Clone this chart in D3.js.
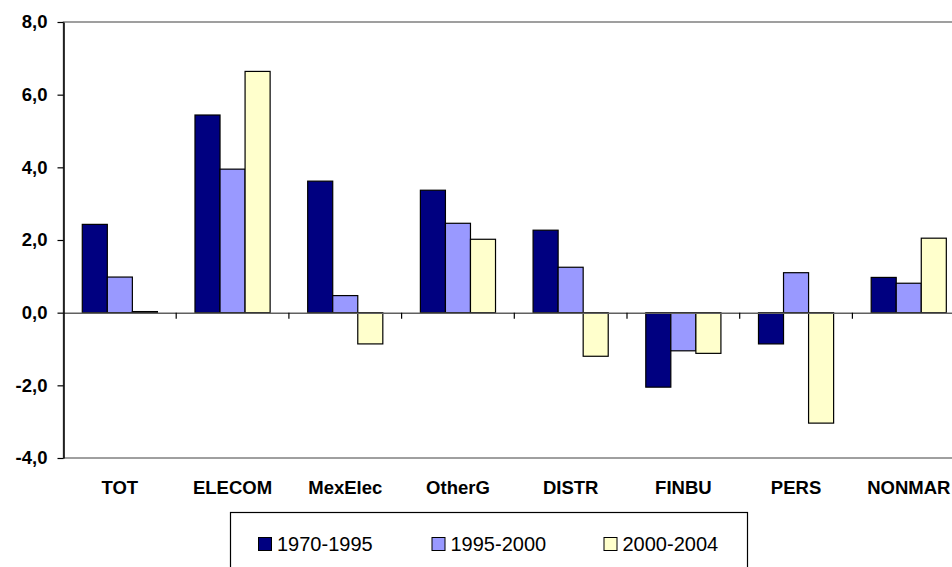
<!DOCTYPE html>
<html>
<head>
<meta charset="utf-8">
<script src="https://cdn.jsdelivr.net/npm/d3@7"></script>
<style>
  html, body { margin: 0; padding: 0; background: #fff; }
  svg { display: block; font-family: "Liberation Sans", Arial, sans-serif; }
</style>
</head>
<body>
<svg id="chart" width="952" height="567"></svg>
<script>
// Sectors shown along the x axis
const categories = ["TOT", "ELECOM", "MexElec", "OtherG", "DISTR", "FINBU", "PERS", "NONMAR"];
// Periods (one bar per period in each sector)
const periods = ["1970-1995", "1995-2000", "2000-2004"];
// Average annual growth, per period
const growth1970_1995 = [2.43, 5.44, 3.62, 3.37, 2.27, -2.05, -0.86, 0.97];
const growth1995_2000 = [0.98, 3.95, 0.47, 2.46, 1.25, -1.05, 1.10, 0.81];
const growth2000_2004 = [0.03, 6.64, -0.86, 2.02, -1.20, -1.12, -3.04, 2.05];
// Value axis ticks
const yTicks = [-4, -2, 0, 2, 4, 6, 8];

const seriesValues = [growth1970_1995, growth1995_2000, growth2000_2004];
const colors = ["#000080", "#9999FF", "#FFFFCC"];

const svg = d3.select("#chart");

const plot = { left: 63.5, top: 22, bottom: 458, step: 112.7 };
const plotRight = plot.left + plot.step * categories.length;

const y = d3.scaleLinear().domain([-4, 8]).range([plot.bottom, plot.top]);
const x0 = d3.scaleBand().domain(categories).range([plot.left, plotRight]).padding(0);
const barW = x0.bandwidth() / 4.5;
const gap = x0.bandwidth() - 3 * barW;
const x1 = d3.scaleBand().domain(d3.range(periods.length))
  .range([gap / 2, gap / 2 + 3 * barW]).padding(0);

const locale = d3.formatLocale({ decimal: ",", thousands: ".", grouping: [3], currency: ["", ""], minus: "-" });
const fmt = locale.format(".1f");

// Plot area frame
svg.append("rect")
  .attr("x", plot.left).attr("y", plot.top)
  .attr("width", plotRight - plot.left).attr("height", plot.bottom - plot.top)
  .attr("fill", "none").attr("stroke", "#808080").attr("stroke-width", 1.5);

// Bars
const groups = svg.append("g").selectAll("g")
  .data(categories)
  .join("g")
  .attr("transform", d => `translate(${x0(d)},0)`);

groups.selectAll("rect")
  .data((d, i) => seriesValues.map((vals, s) => ({ s, v: vals[i] })))
  .join("rect")
  .attr("x", d => x1(d.s))
  .attr("width", x1.bandwidth())
  .attr("y", d => y(Math.max(0, d.v)))
  .attr("height", d => Math.abs(y(d.v) - y(0)))
  .attr("fill", d => colors[d.s])
  .attr("stroke", "#000")
  .attr("stroke-width", 1.2);

// Zero line with category ticks hanging below it
const xAxis = svg.append("g")
  .attr("transform", `translate(0,${y(0)})`)
  .call(d3.axisBottom(x0).tickValues([]).tickSizeOuter(0));
xAxis.select(".domain").attr("stroke", "#606060").attr("stroke-width", 1.5);
xAxis.selectAll(".cat-tick")
  .data(d3.range(1, categories.length))
  .join("line")
  .attr("class", "cat-tick")
  .attr("x1", i => plot.left + i * plot.step)
  .attr("x2", i => plot.left + i * plot.step)
  .attr("y1", 0).attr("y2", 6)
  .attr("stroke", "#000").attr("stroke-width", 1.2);

// Category labels below the plot
svg.append("g").selectAll("text")
  .data(categories)
  .join("text")
  .attr("x", d => x0(d) + x0.bandwidth() / 2)
  .attr("y", 494)
  .attr("text-anchor", "middle")
  .attr("font-size", 18.5)
  .attr("font-weight", "bold")
  .attr("fill", "#000")
  .text(d => d);

// Value axis
const yAxis = svg.append("g")
  .attr("transform", `translate(${plot.left},0)`)
  .call(d3.axisLeft(y).tickValues(yTicks).tickFormat(fmt).tickSize(6).tickSizeOuter(0).tickPadding(10));
yAxis.select(".domain").attr("stroke", "#000").attr("stroke-width", 1.5);
yAxis.selectAll(".tick line").attr("stroke", "#000").attr("stroke-width", 1.2);
yAxis.selectAll(".tick text")
  .attr("font-family", "Liberation Sans, Arial, sans-serif")
  .attr("font-size", 18.5)
  .attr("font-weight", "bold")
  .attr("fill", "#000");

// Legend
const legend = svg.append("g");
legend.append("rect")
  .attr("x", 230.5).attr("y", 512.5)
  .attr("width", 517).attr("height", 80)
  .attr("fill", "#fff").attr("stroke", "#000").attr("stroke-width", 1.2);

const legendX = [258.5, 432, 604];
const items = legend.selectAll("g.item")
  .data(periods)
  .join("g")
  .attr("class", "item")
  .attr("transform", (d, i) => `translate(${legendX[i]},537.5)`);
items.append("rect")
  .attr("width", 13).attr("height", 13)
  .attr("fill", (d, i) => colors[i])
  .attr("stroke", "#000").attr("stroke-width", 1);
items.append("text")
  .attr("x", 18.5).attr("y", 13.5)
  .attr("font-size", 20)
  .attr("fill", "#000")
  .text(d => d);
</script>
</body>
</html>
